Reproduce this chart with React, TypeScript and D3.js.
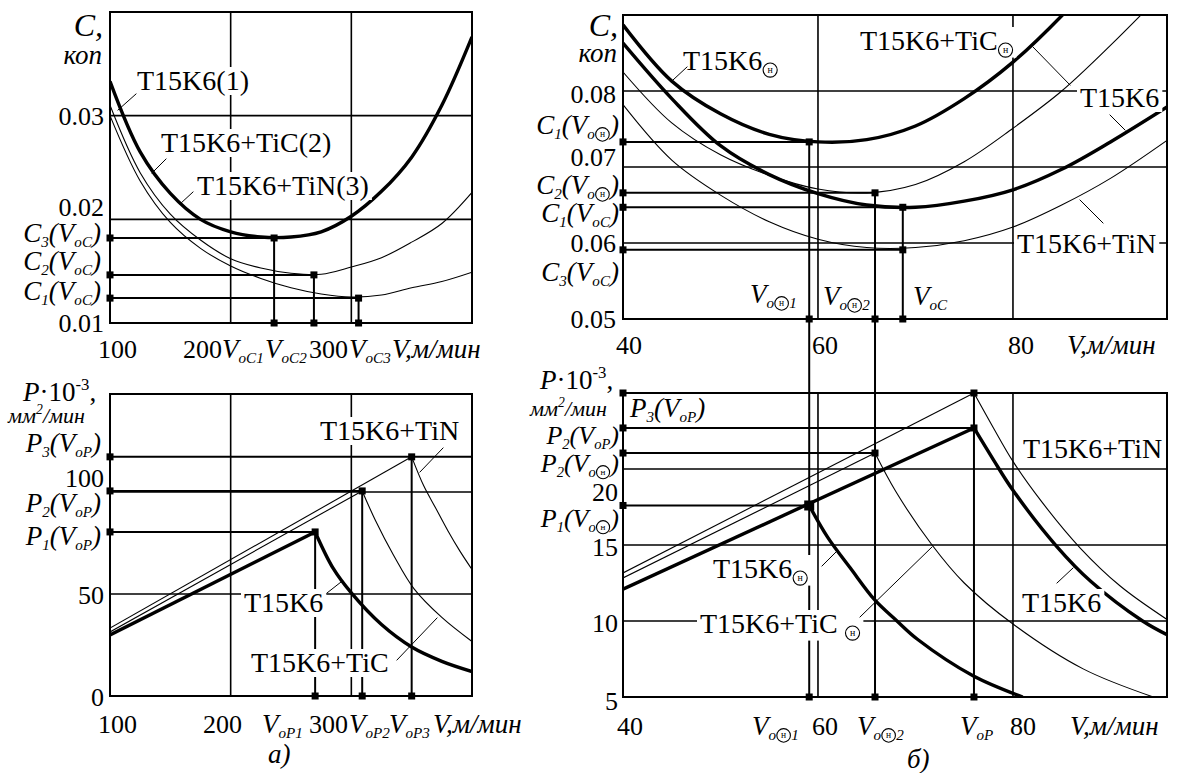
import React, { useEffect, useRef } from 'react';
import * as d3 from 'd3';

const W = 1178;
const H = 773;
const FONT = 'Liberation Serif';
const SYM = '\u2003'; // placeholder for the circled index sign, drawn as a circle

// ---------- Panel а), upper: cost C (коп) vs cutting speed V (м/мин)
const aV = [100, 125, 150, 175, 200, 225, 250, 275, 300, 325, 350, 375, 400];
const aC_T15K6 = [0.0333, 0.0265, 0.0225, 0.02, 0.0188, 0.0183, 0.0183, 0.0188, 0.0203, 0.0227, 0.026, 0.031, 0.0376];
const aC_TiC = [0.031, 0.0245, 0.0205, 0.018, 0.0162, 0.0153, 0.0148, 0.0147, 0.0154, 0.0163, 0.0178, 0.0196, 0.0226];
const aC_TiN = [0.03, 0.0237, 0.0197, 0.0172, 0.0155, 0.0143, 0.0134, 0.0128, 0.0125, 0.0127, 0.0134, 0.014, 0.0149];
const aVoC = [236, 269, 306]; // VoC1, VoC2, VoC3
const aCmin = [0.0182, 0.01464, 0.0124]; // C3(VoC), C2(VoC), C1(VoC)
const aCTicks = [0.01, 0.02, 0.03];
const aVTicks = [100, 200, 300];

// ---------- Panel а), lower: productivity P·10^-3 (мм²/мин) vs V
const aRiseStartP = [29.9, 31.4, 33.3]; // T15K6, T15K6+TiC, T15K6+TiN at V=100
const aVoP = [270, 309, 350]; // VoP1, VoP2, VoP3
const aPmax = [80.4, 100.5, 117.2]; // P1, P2, P3
const aDecV_K6 = [270, 285, 300, 325, 350, 375, 400];
const aDecP_K6 = [80.4, 62.5, 50.5, 35, 24, 17, 12];
const aDecV_TiC = [309, 320, 335, 352, 375, 400];
const aDecP_TiC = [100.5, 86, 69, 52.5, 38.5, 26.7];
const aDecV_TiN = [350, 360, 370, 380, 390, 400];
const aDecP_TiN = [117.2, 103, 92, 81, 71, 62];
const aPTicks = [0, 50, 100];

// ---------- Panel б), upper: cost C vs V
const bV = [40, 45, 50, 55, 60, 65, 70, 75, 80, 85, 90, 95.8];
const bC_K6E = [0.0887, 0.0813, 0.077, 0.0743, 0.0733, 0.0736, 0.0754, 0.079, 0.0838, 0.0899, 0.097, 0.106];
const bC_TiCE = [0.0825, 0.0758, 0.0716, 0.0689, 0.0671, 0.0666, 0.0677, 0.0707, 0.0751, 0.08, 0.086, 0.0935];
const bC_K6 = [0.0863, 0.079, 0.0728, 0.069, 0.0665, 0.065, 0.0647, 0.0655, 0.067, 0.0697, 0.0733, 0.0779];
const bC_TiN = [0.0782, 0.0709, 0.0663, 0.0628, 0.0605, 0.0594, 0.0594, 0.0603, 0.0621, 0.065, 0.0685, 0.0735];
const bLevV = [59.1, 65.85, 68.7, 68.7]; // VoЭ1, VoЭ2, VoC, VoC
const bLevC = [0.0733, 0.0666, 0.0647, 0.0591]; // C1(VoЭ), C2(VoЭ), C1(VoC), C3(VoC)
const bCTicks = [0.05, 0.06, 0.07, 0.08];
const bVTicks = [40, 60, 80];

// ---------- Panel б), lower: productivity vs V
const bRiseStartP = [12.1, 12.83, 13.16]; // thick T15K6, T15K6+TiC, T15K6+TiN at V=40
const bRiseEndV = [76, 65.85, 76];
const bRiseEndP = [22.7, 21.05, 25.0];
const bDecV_K6E = [59.1, 61, 63.3, 65.8, 68.1, 70.2, 75.9, 81];
const bDecP_K6E = [17.6, 15.5, 13.5, 11.4, 10, 8.8, 6.4, 5.0];
const bDecV_K6 = [76, 78, 80, 84.5, 88, 93.3, 95.8];
const bDecP_K6 = [22.7, 20.6, 18.6, 14.9, 12.6, 10, 9.1];
const bDecV_TiCE = [65.85, 68, 71.7, 75, 80, 87.2, 94.4];
const bDecP_TiCE = [21.05, 18.5, 15, 12.5, 9.8, 6.85, 5.0];
const bDecV_TiN = [76, 78, 80, 83, 86.9, 91, 95.8];
const bDecP_TiN = [25, 22.7, 20.5, 17.8, 14.8, 12.3, 10.1];
const bPlevV = [76, 76, 65.85, 59.1];
const bPlev = [25, 22.7, 21.05, 17.6]; // P3(VoP), P2(VoP), P2(VoЭ), P1(VoЭ)
const bPTicks = [5, 10, 15, 20];

type Seg = [string, string?];

function rich(g: any, x: number, y: number, segs: Seg[], anchor = 'start', size = 28, bg = false) {
  const t = g
    .append('text')
    .attr('x', x)
    .attr('y', y)
    .attr('font-size', size)
    .attr('font-family', FONT)
    .attr('text-anchor', anchor)
    .attr('fill', '#000')
    .attr('xml:space', 'preserve');
  t.node().style.fontFamily = '"Liberation Serif"';
  let cur = 0;
  const syms: any[] = [];
  segs.forEach(([s, f = '']) => {
    let off = 0;
    let fs = size;
    if (f.includes('b')) { off = size * 0.2; fs = size * 0.56; }
    if (f.includes('p')) { off = -size * 0.42; fs = size * 0.62; }
    if (f.includes('S')) { fs = size * 0.56; }
    const ts = t.append('tspan').attr('dy', off - cur).attr('font-size', fs).text(s);
    if (f.includes('i')) ts.attr('font-style', 'italic');
    if (f.includes('S')) syms.push(ts.node());
    cur = off;
  });
  if (bg) {
    const bb = t.node().getBBox();
    g.insert('rect', () => t.node())
      .attr('x', bb.x - 3)
      .attr('y', bb.y + 2)
      .attr('width', bb.width + 6)
      .attr('height', bb.height - 3)
      .attr('fill', '#fff');
  }
  syms.forEach((n) => {
    const e = n.getExtentOfChar(0);
    const r = Math.min(e.width, e.height) * 0.45;
    const cx = e.x + e.width / 2;
    const cy = e.y + e.height * 0.5;
    g.append('circle').attr('cx', cx).attr('cy', cy).attr('r', r)
      .attr('fill', 'none').attr('stroke', '#000').attr('stroke-width', 1.1);
    const h = g.append('text').attr('x', cx).attr('y', cy + r * 0.45)
      .attr('text-anchor', 'middle').attr('font-size', r * 1.4).attr('fill', '#000')
      .attr('font-family', 'Liberation Serif').text('н');
    h.node().style.fontFamily = '"Liberation Serif"';
  });
  return t;
}

function draw(svgEl: SVGSVGElement) {
  const svg = d3.select(svgEl);
  svg.selectAll('*').remove();
  svg.append('rect').attr('width', W).attr('height', H).attr('fill', '#fff');

  const GRID = 1.6;
  const FRAME = 2;
  const THICK = 3.4;
  const THIN = 1.1;
  const MARK = 2;
  const TK = 26; // tick label size
  const LB = 27; // C/P/V label size

  const line = (g: any, x1: number, y1: number, x2: number, y2: number, w: number) =>
    g.append('line').attr('x1', x1).attr('y1', y1).attr('x2', x2).attr('y2', y2)
      .attr('stroke', '#000').attr('stroke-width', w).attr('stroke-linecap', 'square');
  const dot = (g: any, x: number, y: number, s = 7) =>
    g.append('rect').attr('x', x - s / 2).attr('y', y - s / 2).attr('width', s).attr('height', s).attr('fill', '#000');
  const curve = (g: any, xs: any, ys: any, vs: number[], ps: number[], w: number, clip: string, straight = false) => {
    const gen = d3.line<number>()
      .x((_, i) => xs(vs[i]))
      .y((d) => ys(d))
      .curve(straight ? d3.curveLinear : d3.curveCatmullRom.alpha(0.5));
    g.append('path').attr('d', gen(ps)).attr('fill', 'none').attr('stroke', '#000')
      .attr('stroke-width', w).attr('stroke-linejoin', 'round').attr('clip-path', `url(#${clip})`);
  };
  const clipRect = (id: string, xs: any, ys: any) => {
    const [x0, x1] = xs.range();
    const [y0, y1] = ys.range();
    svg.append('clipPath').attr('id', id).append('rect')
      .attr('x', x0).attr('y', y1).attr('width', x1 - x0).attr('height', y0 - y1);
  };
  const grid = (g: any, xs: any, ys: any, xv: number[], yv: number[]) => {
    const [x0, x1] = xs.range();
    const [y0, y1] = ys.range();
    xv.forEach((v) => line(g, xs(v), y0, xs(v), y1, GRID));
    yv.forEach((v) => line(g, x0, ys(v), x1, ys(v), GRID));
  };
  const frame = (g: any, xs: any, ys: any) => {
    const [x0, x1] = xs.range();
    const [y0, y1] = ys.range();
    g.append('rect').attr('x', x0).attr('y', y1).attr('width', x1 - x0).attr('height', y0 - y1)
      .attr('fill', 'none').attr('stroke', '#000').attr('stroke-width', FRAME);
  };

  const ax = d3.scaleLinear().domain([100, 400]).range([110, 472]);
  const ayC = d3.scaleLinear().domain([0.01, 0.04]).range([323, 12]);
  const ayP = d3.scaleLinear().domain([0, 148]).range([696, 394]);
  const bx = d3.scaleLinear().domain([40, 95.8]).range([623, 1167]);
  const byC = d3.scaleLinear().domain([0.05, 0.09]).range([319, 15]);
  const byP = d3.scaleLinear().domain([5, 25]).range([697, 393]);

  clipRect('cA1', ax, ayC);
  clipRect('cA2', ax, ayP);
  clipRect('cB1', bx, byC);
  clipRect('cB2', bx, byP);

  const g = svg.append('g');

  // ======================= Panel а) upper =======================
  grid(g, ax, ayC, aVTicks.slice(1), aCTicks.slice(1));
  curve(g, ax, ayC, aV, aC_T15K6, THICK, 'cA1');
  curve(g, ax, ayC, aV, aC_TiC, THIN, 'cA1');
  curve(g, ax, ayC, aV, aC_TiN, THIN, 'cA1');
  aVoC.forEach((v, i) => {
    line(g, ax(100), ayC(aCmin[i]), ax(v), ayC(aCmin[i]), MARK);
    line(g, ax(v), ayC(aCmin[i]), ax(v), ayC(0.01), MARK);
  });
  rich(g, 137, 90, [['T15K6(1)']], 'start', 28, true);
  rich(g, 161, 152, [['T15K6+TiC(2)']], 'start', 28, true);
  rich(g, 197, 195, [['T15K6+TiN(3)']], 'start', 28, true);
  line(g, 118, 110, 136, 94, 1);
  line(g, 152, 173, 166, 159, 1);
  line(g, 180, 204, 193, 192, 1);
  frame(g, ax, ayC);
  aVoC.forEach((v, i) => {
    dot(g, ax(100), ayC(aCmin[i]));
    dot(g, ax(v), ayC(aCmin[i]));
    dot(g, ax(v), ayC(0.01));
  });
  rich(g, 103, 36, [['C', 'i'], [',', 'i']], 'end', 32);
  rich(g, 102, 64, [['коп', 'i']], 'end', 27);
  const aCoff = [9, -3, 9];
  aCTicks.forEach((v, i) => rich(g, 104, ayC(v) + aCoff[i], [[String(v)]], 'end', TK));
  const cNames = ['3', '2', '1'];
  const cBase = [242, 270, 300];
  cNames.forEach((n, i) =>
    rich(g, 101, cBase[i], [['C', 'i'], [n, 'ib'], ['(', 'i'], ['V', 'i'], ['oC', 'ib'], [')', 'i']], 'end', LB));
  const aXbase = 358;
  rich(g, 98, aXbase, [[String(aVTicks[0])]], 'start', TK);
  rich(g, 183, aXbase, [[String(aVTicks[1])]], 'start', TK);
  rich(g, 222, aXbase, [['V', 'i'], ['oC1', 'ib']], 'start', LB);
  rich(g, 265, aXbase, [['V', 'i'], ['oC2', 'ib']], 'start', LB);
  rich(g, 309, aXbase, [[String(aVTicks[2])]], 'start', TK);
  rich(g, 349, aXbase, [['V', 'i'], ['oC3', 'ib']], 'start', LB);
  rich(g, 392, aXbase, [['V,', 'i'], ['м/мин', 'i']], 'start', LB);

  // ======================= Panel а) lower =======================
  grid(g, ax, ayP, aVTicks.slice(1), aPTicks.slice(1));
  [0, 1, 2].forEach((k) => {
    curve(g, ax, ayP, [100, aVoP[k]], [aRiseStartP[k], aPmax[k]], k === 0 ? THICK : THIN, 'cA2', true);
  });
  curve(g, ax, ayP, aDecV_K6, aDecP_K6, THICK, 'cA2');
  curve(g, ax, ayP, aDecV_TiC, aDecP_TiC, THIN, 'cA2');
  curve(g, ax, ayP, aDecV_TiN, aDecP_TiN, THIN, 'cA2');
  line(g, ax(100), ayP(aPmax[2]), ax(400), ayP(aPmax[2]), MARK);
  line(g, ax(100), ayP(aPmax[1]), ax(aVoP[1]), ayP(aPmax[1]), MARK);
  line(g, ax(100), ayP(aPmax[0]), ax(aVoP[0]), ayP(aPmax[0]), MARK);
  aVoP.forEach((v, i) => line(g, ax(v), ayP(aPmax[i]), ax(v), ayP(0), MARK));
  rich(g, 320, 440, [['T15K6+TiN']], 'start', 28, true);
  rich(g, 244, 612, [['T15K6']], 'start', 28, true);
  rich(g, 251, 672, [['T15K6+TiC']], 'start', 28, true);
  line(g, 443, 448, 420, 472, 1);
  line(g, 327, 593, 341, 582, 1);
  line(g, 397, 660, 437, 618, 1);
  frame(g, ax, ayP);
  aVoP.forEach((v, i) => {
    dot(g, ax(100), ayP(aPmax[i]));
    dot(g, ax(v), ayP(aPmax[i]));
    dot(g, ax(v), ayP(0));
  });
  rich(g, 23, 401, [['P', 'i'], ['·10'], ['-3', 'p'], [',']], 'start', 27);
  rich(g, 8, 423, [['мм', 'i'], ['2', 'ip'], ['/мин', 'i']], 'start', 22);
  const pNames = ['3', '2', '1'];
  const pBase = [452, 512, 545];
  pNames.forEach((n, i) =>
    rich(g, 101, pBase[i], [['P', 'i'], [n, 'ib'], ['(', 'i'], ['V', 'i'], ['oP', 'ib'], [')', 'i']], 'end', LB));
  const aPoff = [10, 10, -5];
  aPTicks.forEach((v, i) => rich(g, 104, ayP(v) + aPoff[i], [[String(v)]], 'end', TK));
  const aXbase2 = 733;
  rich(g, 98, aXbase2, [[String(aVTicks[0])]], 'start', TK);
  rich(g, 203, aXbase2, [[String(aVTicks[1])]], 'start', TK);
  rich(g, 262, aXbase2, [['V', 'i'], ['oP1', 'ib']], 'start', LB);
  rich(g, 309, aXbase2, [[String(aVTicks[2])]], 'start', TK);
  rich(g, 349, aXbase2, [['V', 'i'], ['oP2', 'ib']], 'start', LB);
  rich(g, 389, aXbase2, [['V', 'i'], ['oP3', 'ib']], 'start', LB);
  rich(g, 433, aXbase2, [['V,', 'i'], ['м/мин', 'i']], 'start', LB);
  rich(g, 268, 763, [['а)', 'i']], 'start', LB);

  // ======================= Panel б) upper =======================
  grid(g, bx, byC, bVTicks.slice(1), bCTicks.slice(1));
  curve(g, bx, byC, bV, bC_K6E, THICK, 'cB1');
  curve(g, bx, byC, bV, bC_K6, THICK, 'cB1');
  curve(g, bx, byC, bV, bC_TiCE, THIN, 'cB1');
  curve(g, bx, byC, bV, bC_TiN, THIN, 'cB1');
  bLevV.forEach((v, i) => line(g, bx(40), byC(bLevC[i]), bx(v), byC(bLevC[i]), MARK));
  line(g, bx(bLevV[0]), byC(bLevC[0]), bx(bLevV[0]), byP(5), MARK);
  line(g, bx(bLevV[1]), byC(bLevC[1]), bx(bLevV[1]), byP(5), MARK);
  line(g, bx(bLevV[2]), byC(bLevC[2]), bx(bLevV[2]), byC(0.05), MARK);
  rich(g, 683, 70, [['T15K6'], [SYM, 'bS']], 'start', 28, true);
  rich(g, 860, 50, [['T15K6+TiC'], [SYM, 'bS']], 'start', 28, true);
  rich(g, 1080, 107, [['T15K6']], 'start', 28, true);
  rich(g, 1017, 253, [['T15K6+TiN']], 'start', 28, true);
  line(g, 673, 80, 687, 67, 1);
  line(g, 1033, 47, 1070, 85, 1);
  line(g, 1110, 115, 1125, 130, 1);
  line(g, 1080, 200, 1103, 223, 1);
  rich(g, 750, 303, [['V', 'i'], ['o', 'ib'], [SYM, 'bS'], ['1', 'ib']], 'start', LB, true);
  rich(g, 823, 305, [['V', 'i'], ['o', 'ib'], [SYM, 'bS'], ['2', 'ib']], 'start', LB, true);
  rich(g, 913, 305, [['V', 'i'], ['oC', 'ib']], 'start', LB, true);
  frame(g, bx, byC);
  bLevV.forEach((v, i) => {
    dot(g, bx(40), byC(bLevC[i]));
    dot(g, bx(v), byC(bLevC[i]));
  });
  [bLevV[0], bLevV[1], bLevV[2]].forEach((v) => dot(g, bx(v), byC(0.05)));
  rich(g, 618, 36, [['C', 'i'], [',', 'i']], 'end', 32);
  rich(g, 617, 62, [['коп', 'i']], 'end', 27);
  const bCoff = [9, 9, -1, 12];
  bCTicks.forEach((v, i) => rich(g, 616, byC(v) + bCoff[i], [[v.toFixed(2)]], 'end', TK));
  const bCLab: Seg[][] = [
    [['C', 'i'], ['1', 'ib'], ['(', 'i'], ['V', 'i'], ['o', 'ib'], [SYM, 'bS'], [')', 'i']],
    [['C', 'i'], ['2', 'ib'], ['(', 'i'], ['V', 'i'], ['o', 'ib'], [SYM, 'bS'], [')', 'i']],
    [['C', 'i'], ['1', 'ib'], ['(', 'i'], ['V', 'i'], ['oC', 'ib'], [')', 'i']],
    [['C', 'i'], ['3', 'ib'], ['(', 'i'], ['V', 'i'], ['oC', 'ib'], [')', 'i']],
  ];
  const bCBase = [134, 194, 222, 281];
  bCLab.forEach((s, i) => rich(g, 619, bCBase[i], s, 'end', LB));
  const bXbase = 354;
  rich(g, 616, bXbase, [[String(bVTicks[0])]], 'start', TK);
  rich(g, 812, bXbase, [[String(bVTicks[1])]], 'start', TK);
  rich(g, 1008, bXbase, [[String(bVTicks[2])]], 'start', TK);
  rich(g, 1067, bXbase, [['V,', 'i'], ['м/мин', 'i']], 'start', LB);

  // ======================= Panel б) lower =======================
  grid(g, bx, byP, bVTicks.slice(1), bPTicks.slice(1));
  [0, 1, 2].forEach((k) =>
    curve(g, bx, byP, [40, bRiseEndV[k]], [bRiseStartP[k], bRiseEndP[k]], k === 0 ? THICK : THIN, 'cB2', true));
  curve(g, bx, byP, bDecV_K6E, bDecP_K6E, THICK, 'cB2');
  curve(g, bx, byP, bDecV_K6, bDecP_K6, THICK, 'cB2');
  curve(g, bx, byP, bDecV_TiCE, bDecP_TiCE, THIN, 'cB2');
  curve(g, bx, byP, bDecV_TiN, bDecP_TiN, THIN, 'cB2');
  bPlevV.forEach((v, i) => line(g, bx(40), byP(bPlev[i]), bx(v), byP(bPlev[i]), MARK));
  line(g, bx(76), byP(25), bx(76), byP(5), MARK);
  rich(g, 1023, 458, [['T15K6+TiN']], 'start', 28, true);
  rich(g, 1022, 612, [['T15K6']], 'start', 28, true);
  rich(g, 713, 578, [['T15K6'], [SYM, 'bS']], 'start', 28, true);
  rich(g, 700, 633, [['T15K6+TiC '], [SYM, 'bS']], 'start', 28, true);
  line(g, 1057, 583, 1073, 568, 1);
  line(g, 822, 566, 836, 552, 1);
  line(g, 860, 617, 932, 547, 1);
  frame(g, bx, byP);
  bPlevV.forEach((v, i) => {
    dot(g, bx(40), byP(bPlev[i]));
    dot(g, bx(v), byP(bPlev[i]), i === 3 ? 10 : 7);
  });
  [bPlevV[3], bPlevV[2], bPlevV[0]].forEach((v) => dot(g, bx(v), byP(5)));
  rich(g, 540, 389, [['P', 'i'], ['·10'], ['-3', 'p'], [',']], 'start', 27);
  rich(g, 530, 416, [['мм', 'i'], ['2', 'ip'], ['/мин', 'i']], 'start', 22);
  rich(g, 630, 417, [['P', 'i'], ['3', 'ib'], ['(', 'i'], ['V', 'i'], ['oP', 'ib'], [')', 'i']], 'start', LB);
  const bPLab: Seg[][] = [
    [['P', 'i'], ['2', 'ib'], ['(', 'i'], ['V', 'i'], ['oP', 'ib'], [')', 'i']],
    [['P', 'i'], ['2', 'ib'], ['(', 'i'], ['V', 'i'], ['o', 'ib'], [SYM, 'bS'], [')', 'i']],
    [['P', 'i'], ['1', 'ib'], ['(', 'i'], ['V', 'i'], ['o', 'ib'], [SYM, 'bS'], [')', 'i']],
  ];
  const bPBase = [444, 472, 527];
  bPLab.forEach((s, i) => rich(g, 619, bPBase[i], s, 'end', 26));
  const bPoff = [13, 11, 11, 32];
  bPTicks.forEach((v, i) => rich(g, 618, byP(v) + bPoff[i], [[String(v)]], 'end', TK));
  const bXbase2 = 735;
  rich(g, 617, bXbase2, [[String(bVTicks[0])]], 'start', TK);
  rich(g, 752, bXbase2, [['V', 'i'], ['o', 'ib'], [SYM, 'bS'], ['1', 'ib']], 'start', LB);
  rich(g, 812, bXbase2, [[String(bVTicks[1])]], 'start', TK);
  rich(g, 857, bXbase2, [['V', 'i'], ['o', 'ib'], [SYM, 'bS'], ['2', 'ib']], 'start', LB);
  rich(g, 960, bXbase2, [['V', 'i'], ['oP', 'ib']], 'start', LB);
  rich(g, 1010, bXbase2, [[String(bVTicks[2])]], 'start', TK);
  rich(g, 1070, bXbase2, [['V,', 'i'], ['м/мин', 'i']], 'start', LB);
  rich(g, 907, 768, [['б)', 'i']], 'start', LB);
}

export default function App() {
  const ref = useRef<SVGSVGElement>(null);
  useEffect(() => {
    if (ref.current) draw(ref.current);
  }, []);
  return (
    <svg
      ref={ref}
      width={W}
      height={H}
      style={{ position: 'absolute', left: 0, top: 0, display: 'block', fontFamily: '"Liberation Serif"' }}
    />
  );
}
